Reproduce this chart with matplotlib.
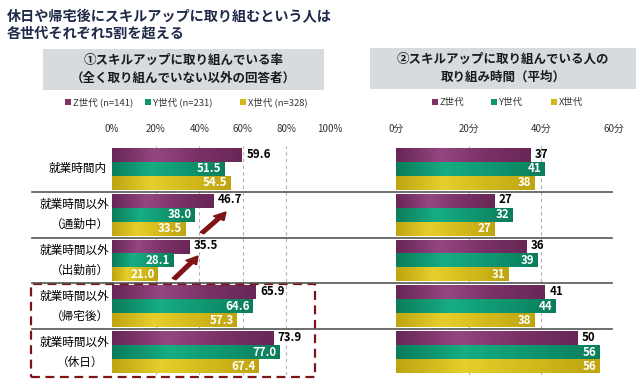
import matplotlib
matplotlib.use("Agg")
import matplotlib.pyplot as plt
import numpy as np
from matplotlib.colors import LinearSegmentedColormap
from matplotlib.patches import Rectangle, FancyArrow

plt.rcParams['font.family'] = ['Noto Sans CJK JP', 'DejaVu Sans']

# データ
categories = ['就業時間内', '就業時間以外\n（通勤中）', '就業時間以外\n（出勤前）',
              '就業時間以外\n（帰宅後）', '就業時間以外\n（休日）']
generations = ['Z世代', 'Y世代', 'X世代']
n_counts = [141, 231, 328]
rate_z = [59.6, 46.7, 35.5, 65.9, 73.9]
rate_y = [51.5, 38.0, 28.1, 64.6, 77.0]
rate_x = [54.5, 33.5, 21.0, 57.3, 67.4]
time_z = [37, 27, 36, 41, 50]
time_y = [41, 32, 39, 44, 56]
time_x = [38, 27, 31, 38, 56]
rate_ticks = [0, 20, 40, 60, 80, 100]
time_ticks = [0, 20, 40, 60]

W, H = 642, 388
colors = ['#7a3266', '#0f9670', '#d2b91b']
light = ['#944680', '#17ad83', '#e6cf2c']
dark = ['#682756', '#0b7d5c', '#bfa512']
title_color = '#1f2a48'
red = '#7f1416'


def fx(x):
    return x / W


def fy(y):
    return 1 - y / H


fig = plt.figure(figsize=(6.42, 3.88), dpi=100)

# 軸の配置 (px)
top, bottom = 146, 375
axL = fig.add_axes([fx(112), fy(bottom), fx(330 - 112), (bottom - top) / H])
axR = fig.add_axes([fx(396), fy(bottom), fx(614 - 396), (bottom - top) / H])

bar_h = 0.305
offsets = [-bar_h, 0, bar_h]


def draw_panel(ax, series, xmax, ticks, fmt):
    for t in ticks[1:]:
        ax.axvline(t, color='#b0b0b0', lw=0.8, ls=(0, (3, 3)), zorder=0)
    for k, vals in enumerate(series):
        cmap = LinearSegmentedColormap.from_list('g%d' % k, [dark[k], light[k], colors[k], dark[k]])
        grad = np.linspace(0, 1, 64).reshape(1, -1)
        for i, v in enumerate(vals):
            y = i + offsets[k]
            ax.imshow(grad, cmap=cmap, aspect='auto', zorder=2,
                      extent=[0, v, y + bar_h / 2, y - bar_h / 2])
            if k == 0:
                ax.text(v + xmax * 0.02, y - 0.02, fmt(v), ha='left', va='center',
                        fontsize=8.3, fontweight='bold', color='black', zorder=4)
            else:
                ax.text(v - xmax * 0.015, y, fmt(v), ha='right', va='center',
                        fontsize=8.3, fontweight='bold', color='white', zorder=4)
    ax.set_xlim(0, xmax)
    ax.set_ylim(4.5, -0.5)
    ax.axis('off')


draw_panel(axL, [rate_z, rate_y, rate_x], 100, rate_ticks, lambda v: '%.1f' % v)
draw_panel(axR, [time_z, time_y, time_x], 60, time_ticks, lambda v: '%d' % v)

# 目盛りラベル
for t in rate_ticks:
    fig.text(fx(112 + t * 2.18), fy(129), '%d%%' % t, ha='center', va='center',
             fontsize=7, color='#333333')
for t in time_ticks:
    fig.text(fx(396 + t * 3.633), fy(129), '%d分' % t, ha='center', va='center',
             fontsize=7, color='#333333')

# 区切り線
for sep in [0.5, 1.5, 2.5, 3.5]:
    y = top + (sep + 0.5) * (bottom - top) / 5
    fig.add_artist(plt.Line2D([fx(32), fx(612)], [fy(y), fy(y)], color='#555555', lw=1.2))

# カテゴリラベル
for i, c in enumerate(categories):
    y = top + (i + 0.5) * (bottom - top) / 5
    lines = c.split('\n')
    if len(lines) == 1:
        fig.text(fx(107), fy(y), c, ha='right', va='center', fontsize=8.4)
    else:
        fig.text(fx(74), fy(y - 10), lines[0], ha='center', va='center', fontsize=8.4)
        fig.text(fx(80), fy(y + 10), lines[1], ha='center', va='center', fontsize=8.4)

# タイトル
fig.text(fx(7), fy(17), '休日や帰宅後にスキルアップに取り組むという人は', ha='left', va='center',
         fontsize=10.2, fontweight='bold', color=title_color)
fig.text(fx(7), fy(34), '各世代それぞれ5割を超える', ha='left', va='center',
         fontsize=10.2, fontweight='bold', color=title_color)

# 見出しボックス
for (x0, x1, y0, y1), txt in [((43, 324, 49, 90), '①スキルアップに取り組んでいる率\n（全く取り組んでいない以外の回答者）'),
                              ((370, 636, 48, 89), '②スキルアップに取り組んでいる人の\n取り組み時間（平均）')]:
    fig.add_artist(Rectangle((fx(x0), fy(y1)), fx(x1 - x0), (y1 - y0) / H,
                             facecolor='#d6dbe0', edgecolor='none'))
    fig.text(fx((x0 + x1) / 2), fy((y0 + y1) / 2), txt, ha='center', va='center',
             fontsize=9, fontweight='bold', color='#1a1a1a', linespacing=1.5)

# 凡例
for k, g in enumerate(generations):
    x = [65, 145, 240][k]
    fig.add_artist(Rectangle((fx(x), fy(105)), fx(6), 6 / H, facecolor=colors[k]))
    fig.text(fx(x + 8), fy(102), '%s (n=%d)' % (g, n_counts[k]), ha='left', va='center',
             fontsize=6.8, color='#333333')
    x = [432, 491, 551][k]
    fig.add_artist(Rectangle((fx(x), fy(105)), fx(6), 6 / H, facecolor=colors[k]))
    fig.text(fx(x + 8), fy(102), g, ha='left', va='center', fontsize=6.8, color='#333333')

# 矢印
for (x0, y0, x1, y1) in [(202, 233, 226, 212), (174, 279, 198, 256)]:
    fig.add_artist(FancyArrow(fx(x0), fy(y0), fx(x1 - x0), fy(y1) - fy(y0), width=0.007,
                              head_width=0.02, head_length=0.02, length_includes_head=True,
                              color=red, transform=fig.transFigure))

# 点線枠
fig.add_artist(Rectangle((fx(31), fy(377)), fx(315 - 31), (377 - 284) / H, fill=False,
                         edgecolor=red, lw=1.6, ls=(0, (4, 2.5))))

fig.savefig('out.png', dpi=100)
